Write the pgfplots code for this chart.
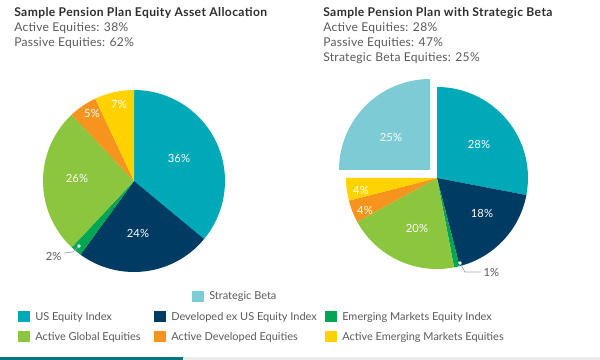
\documentclass[border=0pt]{standalone}
\usepackage{fontspec}
\setmainfont{Lato}
\usepackage{pgfplots}
\pgfplotsset{compat=1.18}
\definecolor{cUS}{HTML}{00A9B7}
\definecolor{cDev}{HTML}{003B64}
\definecolor{cEM}{HTML}{00A651}
\definecolor{cAG}{HTML}{8CC63F}
\definecolor{cAD}{HTML}{F7941D}
\definecolor{cAEM}{HTML}{FFD200}
\definecolor{cSB}{HTML}{7DCBD5}
\definecolor{txt}{HTML}{5A5A5A}
\definecolor{ttl}{HTML}{2E2E2E}
% radius of the pies: 91 axis units x 0.025cm
\newcommand{\R}{2.275cm}
% \slice{cx}{cy}{start pct}{value pct}{colour}
\newcommand{\slice}[5]{\fill[#5] (axis cs:#1,#2) -- ++({90-3.6*(#3)}:\R) arc[start angle={90-3.6*(#3)}, delta angle={-3.6*(#4)}, radius=\R] -- cycle;}
\newcommand{\lab}[3]{\node[text=white,font=\fontsize{8}{9}\selectfont] at (axis cs:#1,#2) {#3};}
\newcommand{\legitem}[4]{\fill[#4] (axis cs:#1-6,#2-5.5) rectangle (axis cs:#1+6,#2+5.5);
  \node[anchor=west,text=txt,inner sep=0pt,font=\fontsize{7.8}{9}\selectfont] at (axis cs:#1+11,#2) {#3};}
\newcommand{\hfont}{\fontsize{8.6}{10}\selectfont\addfontfeature{LetterSpace=3.2}\bfseries}
\newcommand{\bfont}{\fontsize{8.6}{10}\selectfont\addfontfeature{LetterSpace=2.2}}
\begin{document}
\begin{tikzpicture}
\begin{axis}[
  width=15cm, height=9cm, scale only axis,
  xmin=0, xmax=600, ymin=0, ymax=360,
  hide axis, clip=false]
\path (axis cs:0,0) rectangle (axis cs:600,360);
% ---- left pie: centre (134,179)
\slice{134}{179}{0}{36}{cUS}
\slice{134}{179}{36}{24}{cDev}
\slice{134}{179}{60}{2}{cEM}
\slice{134}{179}{62}{26}{cAG}
\slice{134}{179}{88}{5}{cAD}
\slice{134}{179}{93}{7}{cAEM}
\lab{179}{202}{36\%}
\lab{138}{127}{24\%}
\lab{77}{182}{26\%}
\lab{92}{247}{5\%}
\lab{119}{256}{7\%}
\draw[gray!70,line width=0.5pt] (axis cs:79,114) -- (axis cs:73,108) -- (axis cs:64,107);
\fill[white] (axis cs:79,114) circle[radius=1.4pt];
\node[anchor=east,text=txt,inner sep=1pt,font=\fontsize{8}{9}\selectfont] at (axis cs:63,104) {2\%};
% ---- right pie: centre (437,182)
\slice{437}{182}{0}{28}{cUS}
\slice{437}{182}{28}{18}{cDev}
\slice{437}{182}{46}{1}{cEM}
\slice{437}{182}{47}{20}{cAG}
\slice{437}{182}{67}{4}{cAD}
\slice{437}{182}{71}{4}{cAEM}
\slice{430}{190}{75}{25}{cSB}
\lab{479}{216}{28\%}
\lab{391}{223}{25\%}
\lab{482}{147}{18\%}
\lab{417}{132}{20\%}
\lab{365}{150}{4\%}
\lab{361}{170}{4\%}
\draw[gray!70,line width=0.5pt] (axis cs:460,97) -- (axis cs:465,88) -- (axis cs:481,88);
\fill[white] (axis cs:460,97) circle[radius=1.4pt];
\node[anchor=west,text=txt,inner sep=1pt,font=\fontsize{8}{9}\selectfont] at (axis cs:482,88) {1\%};
% ---- titles
\node[anchor=west,inner sep=0pt,text=ttl,font=\hfont] at (axis cs:14,347) {Sample Pension Plan Equity Asset Allocation};
\node[anchor=west,inner sep=0pt,text=txt,font=\bfont] at (axis cs:14,332) {Active Equities: 38\%};
\node[anchor=west,inner sep=0pt,text=txt,font=\bfont] at (axis cs:14,317) {Passive Equities: 62\%};
\node[anchor=west,inner sep=0pt,text=ttl,font=\hfont] at (axis cs:323,347) {Sample Pension Plan with Strategic Beta};
\node[anchor=west,inner sep=0pt,text=txt,font=\bfont] at (axis cs:323,332) {Active Equities: 28\%};
\node[anchor=west,inner sep=0pt,text=txt,font=\bfont] at (axis cs:323,317) {Passive Equities: 47\%};
\node[anchor=west,inner sep=0pt,text=txt,font=\bfont] at (axis cs:323,302) {Strategic Beta Equities: 25\%};
% ---- legend
\legitem{198}{63}{Strategic Beta}{cSB}
\legitem{24}{43}{US Equity Index}{cUS}
\legitem{160}{43}{Developed ex US Equity Index}{cDev}
\legitem{331}{43}{Emerging Markets Equity Index}{cEM}
\legitem{24}{23}{Active Global Equities}{cAG}
\legitem{160}{23}{Active Developed Equities}{cAD}
\legitem{331}{23}{Active Emerging Markets Equities}{cAEM}
% ---- bottom strip
\fill[gray!15] (axis cs:183,0) rectangle (axis cs:600,2.5);
\fill[cUS!70!black] (axis cs:0,0) rectangle (axis cs:183,2.5);
\end{axis}
\end{tikzpicture}
\end{document}
